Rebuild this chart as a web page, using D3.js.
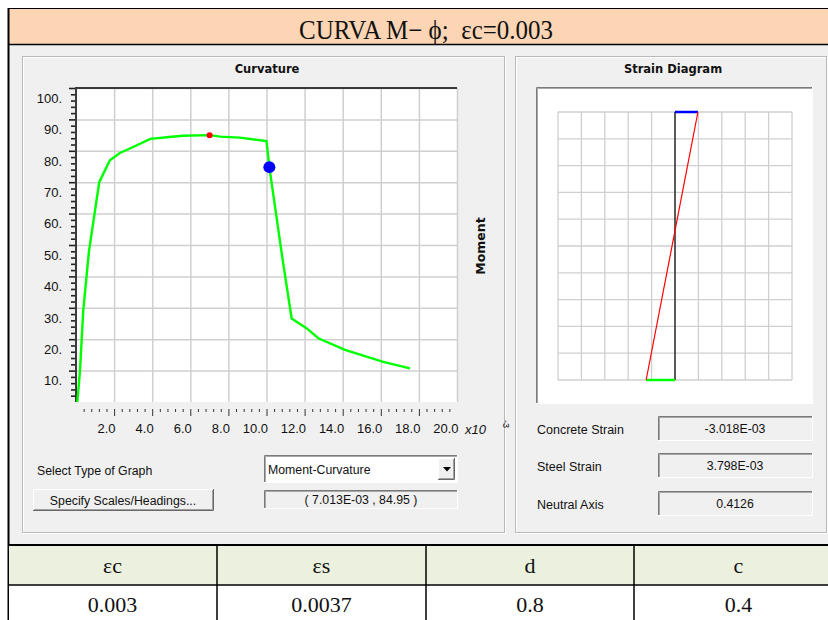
<!DOCTYPE html>
<meta charset="utf-8">
<script src="https://d3js.org/d3.v7.min.js"></script>
<style>
  body { margin: 0; background: #fff; }
  svg text { font-family: "Liberation Sans", Arial, sans-serif; fill: #111; }
  .serif { font-family: "Liberation Serif", "Times New Roman", serif !important; }
  .bold { font-family: "DejaVu Sans", sans-serif !important; font-weight: bold; }
</style>
<div id="chart"></div>
<script>
// moment-curvature curve, curvature in x10^-3
var curvature = [0.07, 0.21, 0.38, 0.68, 1.22, 1.78, 2.3, 3.0, 3.9, 4.9, 5.6, 7.03, 7.56, 8.6, 10.0, 10.15, 10.85, 11.32, 12.1, 12.72, 14.12, 16.13, 17.53];
var moment = [0, 10, 29, 48, 70, 77, 79.3, 81.2, 83.8, 84.4, 84.8, 85.0, 84.5, 84.2, 83.1, 74.8, 45.2, 26.6, 23.5, 20.3, 16.6, 12.8, 10.7];
var peakPoint = [7.013, 84.95];
var currentPoint = [10.15, 74.8];
var xTickLabels = ["2.0", "4.0", "6.0", "8.0", "10.0", "12.0", "14.0", "16.0", "18.0", "20.0"];
var yTickLabels = ["10.", "20.", "30.", "40.", "50.", "60.", "70.", "80.", "90.", "100."];

// strain diagram (x10^-3), top fibre and bottom fibre
var strainDepth = [0, 1];
var strainValues = [3.018, -3.798];

var infoLabels = ["Concrete Strain", "Steel Strain", "Neutral Axis"];
var infoValues = ["-3.018E-03", "3.798E-03", "0.4126"];

var tableHeaders = ["εc", "εs", "d", "c"];
var tableValues = ["0.003", "0.0037", "0.8", "0.4"];

var svg = d3.select("#chart").append("svg")
  .attr("width", 828)
  .attr("height", 620);

// ---- frame / title ----
svg.append("rect").attr("x", 8).attr("y", 44).attr("width", 820).attr("height", 501).attr("fill", "#f0f0f0");
svg.append("rect").attr("x", 8).attr("y", 8).attr("width", 820).attr("height", 36).attr("fill", "#fcd5b4");
svg.append("line").attr("x1", 8).attr("x2", 828).attr("y1", 8.5).attr("y2", 8.5).attr("stroke", "#000");
svg.append("line").attr("x1", 8).attr("x2", 828).attr("y1", 44.5).attr("y2", 44.5).attr("stroke", "#000").attr("stroke-width", 1.5);
svg.append("line").attr("x1", 8.5).attr("x2", 8.5).attr("y1", 8).attr("y2", 620).attr("stroke", "#000").attr("stroke-width", 2);

svg.append("text").attr("class", "serif")
  .attr("x", 299).attr("y", 39)
  .attr("textLength", 254).attr("lengthAdjust", "spacingAndGlyphs")
  .style("font-size", "27px")
  .style("white-space", "pre")
  .text("CURVA M− ϕ;  εc=0.003");

// etched group boxes
function groupBox(x, y, w, h) {
  svg.append("rect").attr("x", x + 1.5).attr("y", y + 1.5).attr("width", w).attr("height", h)
    .attr("fill", "none").attr("stroke", "#fff");
  svg.append("rect").attr("x", x + 0.5).attr("y", y + 0.5).attr("width", w).attr("height", h)
    .attr("fill", "none").attr("stroke", "#b9b9b9");
}
groupBox(22, 56, 482, 476);
groupBox(515, 56, 311, 476);

// sunken / raised boxes
function sunken(x, y, w, h, fill) {
  svg.append("rect").attr("x", x).attr("y", y).attr("width", w).attr("height", h).attr("fill", fill);
  svg.append("path").attr("d", "M" + (x + 0.5) + "," + (y + h) + "V" + (y + 0.5) + "H" + (x + w))
    .attr("fill", "none").attr("stroke", "#7a7a7a");
  svg.append("path").attr("d", "M" + (x + 1.5) + "," + (y + h - 1) + "V" + (y + 1.5) + "H" + (x + w - 1))
    .attr("fill", "none").attr("stroke", "#a8a8a8");
  svg.append("path").attr("d", "M" + x + "," + (y + h - 0.5) + "H" + (x + w - 0.5) + "V" + y)
    .attr("fill", "none").attr("stroke", "#fff");
}
function raised(x, y, w, h) {
  svg.append("rect").attr("x", x).attr("y", y).attr("width", w).attr("height", h).attr("fill", "#f0f0f0");
  svg.append("path").attr("d", "M" + (x + 0.5) + "," + (y + h) + "V" + (y + 0.5) + "H" + (x + w))
    .attr("fill", "none").attr("stroke", "#fff");
  svg.append("path").attr("d", "M" + x + "," + (y + h - 0.5) + "H" + (x + w - 0.5) + "V" + y)
    .attr("fill", "none").attr("stroke", "#696969");
  svg.append("path").attr("d", "M" + (x + 1) + "," + (y + h - 1.5) + "H" + (x + w - 1.5) + "V" + (y + 1))
    .attr("fill", "none").attr("stroke", "#a0a0a0");
}

// ---- curvature chart ----
var plot = { left: 76, top: 88, right: 457, bottom: 402 };
var x = d3.scaleLinear().domain([0, 20]).range([plot.left, plot.right]);
var y = d3.scaleLinear().domain([0, 100]).range([plot.bottom, plot.top]);

svg.append("text").attr("class", "bold")
  .attr("x", 267).attr("y", 73).attr("text-anchor", "middle")
  .style("font-size", "11.5px")
  .text("Curvature");

svg.append("rect").attr("x", plot.left).attr("y", plot.top)
  .attr("width", plot.right - plot.left).attr("height", plot.bottom - plot.top)
  .attr("fill", "#fff");

var xVals = xTickLabels.map(parseFloat);
var yVals = yTickLabels.map(parseFloat);

svg.append("g").selectAll("line").data(xVals).enter().append("line")
  .attr("x1", function(d) { return x(d) + 0.5; }).attr("x2", function(d) { return x(d) + 0.5; })
  .attr("y1", plot.top).attr("y2", plot.bottom)
  .attr("stroke", "#cfcfcf").attr("stroke-width", 1.5);
svg.append("g").selectAll("line").data(yVals).enter().append("line")
  .attr("x1", plot.left).attr("x2", plot.right)
  .attr("y1", function(d) { return y(d) + 0.5; }).attr("y2", function(d) { return y(d) + 0.5; })
  .attr("stroke", "#cfcfcf").attr("stroke-width", 1.5);

// dark sunken edge on left and top
svg.append("path")
  .attr("d", "M" + (plot.left) + "," + plot.bottom + "V" + (plot.top) + "H" + plot.right)
  .attr("fill", "none").attr("stroke", "#3a3a3a").attr("stroke-width", 2);

// y axis: minor + major ticks
var yMinor = d3.range(2, 100, 2).filter(function(d) { return d % 10 !== 0; });
svg.append("g").attr("class", "axis")
  .attr("transform", "translate(" + (plot.left - 1) + ",0)")
  .call(d3.axisLeft(y).tickValues(yMinor).tickSize(4).tickFormat(""))
  .call(function(g) { g.select(".domain").remove(); });
var yAxis = svg.append("g")
  .attr("transform", "translate(" + (plot.left - 1) + ",0)")
  .call(d3.axisLeft(y).tickValues(yVals).tickSize(6).tickPadding(7)
    .tickFormat(function(d, i) { return yTickLabels[i]; }));
yAxis.select(".domain").remove();
yAxis.selectAll("text").attr("dy", "1.1em").style("font-size", "13px")
  .style("font-family", "Liberation Sans, Arial, sans-serif").attr("fill", "#222");
svg.selectAll(".tick line").attr("stroke", "#222").attr("stroke-width", 1.6);

// x axis: minor + major ticks, detached below plot
var xMinor = d3.range(1, 50).map(function(d) { return d * 0.4; })
  .filter(function(d) { return Math.abs(d / 2 - Math.round(d / 2)) > 0.01; });
svg.append("g")
  .attr("transform", "translate(0,409)")
  .call(d3.axisBottom(x).tickValues(xMinor).tickSize(3).tickFormat(""))
  .call(function(g) { g.select(".domain").remove(); g.selectAll("line").attr("stroke", "#333"); });
var xAxis = svg.append("g")
  .attr("transform", "translate(0,409)")
  .call(d3.axisBottom(x).tickValues(xVals).tickSize(7)
    .tickFormat(function(d, i) { return xTickLabels[i]; }));
xAxis.select(".domain").remove();
xAxis.selectAll("line").attr("stroke", function(d) { return d === 20 ? "none" : "#333"; });
xAxis.selectAll("text").attr("text-anchor", "end").attr("x", 1).attr("y", 15)
  .style("font-size", "13px").style("font-family", "Liberation Sans, Arial, sans-serif").attr("fill", "#222");

svg.append("text").attr("x", 465).attr("y", 434)
  .style("font-size", "13px").style("font-style", "italic").attr("fill", "#222")
  .text("x10");
svg.append("text").attr("transform", "translate(503,420) rotate(90)")
  .style("font-size", "9px").attr("fill", "#222").text("-3");

svg.append("text").attr("class", "bold")
  .attr("transform", "translate(485,246) rotate(-90)")
  .attr("text-anchor", "middle")
  .style("font-size", "12.5px")
  .text("Moment");

var line = d3.line()
  .x(function(d, i) { return x(curvature[i]); })
  .y(function(d) { return y(d); });

svg.append("path").datum(moment)
  .attr("d", line)
  .attr("fill", "none")
  .attr("stroke", "#00ff00")
  .attr("stroke-width", 2.4);

svg.append("circle").attr("cx", x(peakPoint[0])).attr("cy", y(peakPoint[1])).attr("r", 3)
  .attr("fill", "#ff0000");
svg.append("circle").attr("cx", x(currentPoint[0])).attr("cy", y(currentPoint[1])).attr("r", 6)
  .attr("fill", "#0000ff");

// controls below the chart
svg.append("text").attr("x", 37).attr("y", 475).style("font-size", "12.3px").text("Select Type of Graph");
sunken(264, 455, 194, 28, "#fff");
svg.append("text").attr("x", 268).attr("y", 474).style("font-size", "12.3px").text("Moment-Curvature");
raised(438, 458, 17, 22);
svg.append("path").attr("d", "M443,467h8l-4,4.5z").attr("fill", "#000");

raised(33, 489, 181, 22);
svg.append("text").attr("x", 123).attr("y", 505).attr("text-anchor", "middle")
  .style("font-size", "12.3px").text("Specify Scales/Headings...");
sunken(264, 490, 194, 19, "#f0f0f0");
svg.append("text").attr("x", 361).attr("y", 504).attr("text-anchor", "middle")
  .style("font-size", "12.3px").text("( " + peakPoint[0].toFixed(3) + "E-03 , " + peakPoint[1].toFixed(2) + " )");

// ---- strain diagram ----
svg.append("text").attr("class", "bold")
  .attr("x", 673).attr("y", 73).attr("text-anchor", "middle")
  .style("font-size", "11.5px")
  .text("Strain Diagram");

sunken(536, 87, 277, 317, "#fff");

var gx = d3.scaleLinear().domain([0, 10]).range([558, 792]);
var gy = d3.scaleLinear().domain([0, 10]).range([112, 380]);
svg.append("g").selectAll("line").data(d3.range(11)).enter().append("line")
  .attr("x1", function(d) { return gx(d); }).attr("x2", function(d) { return gx(d); })
  .attr("y1", gy(0)).attr("y2", gy(10)).attr("stroke", "#cfcfcf").attr("stroke-width", 1.3);
svg.append("g").selectAll("line").data(d3.range(11)).enter().append("line")
  .attr("y1", function(d) { return gy(d); }).attr("y2", function(d) { return gy(d); })
  .attr("x1", gx(0)).attr("x2", gx(10)).attr("stroke", "#cfcfcf").attr("stroke-width", 1.3);

var sx = d3.scaleLinear().domain([-15.4, 15.4]).range([558, 792]);
var sy = d3.scaleLinear().domain([0, 1]).range([112, 380]);

svg.append("line").attr("x1", sx(0)).attr("x2", sx(0))
  .attr("y1", sy(0)).attr("y2", sy(1)).attr("stroke", "#000").attr("stroke-width", 1.2);
svg.append("line").attr("x1", sx(0)).attr("x2", sx(strainValues[0]))
  .attr("y1", sy(strainDepth[0])).attr("y2", sy(strainDepth[0]))
  .attr("stroke", "#0000ff").attr("stroke-width", 2.5);
svg.append("line").attr("x1", sx(0)).attr("x2", sx(strainValues[1]))
  .attr("y1", sy(strainDepth[1])).attr("y2", sy(strainDepth[1]))
  .attr("stroke", "#00ff00").attr("stroke-width", 2.5);
svg.append("path").datum(strainValues)
  .attr("d", d3.line().x(function(d) { return sx(d); }).y(function(d, i) { return sy(strainDepth[i]); }))
  .attr("fill", "none").attr("stroke", "#ff0000").attr("stroke-width", 1.2);

var infoY = [416, 453, 491];
infoLabels.forEach(function(lab, i) {
  svg.append("text").attr("x", 537).attr("y", infoY[i] + 18).style("font-size", "12.5px").text(lab);
  sunken(658, infoY[i], 155, 25, "#f0f0f0");
  svg.append("text").attr("x", 735).attr("y", infoY[i] + 17).attr("text-anchor", "middle")
    .style("font-size", "12.3px").text(infoValues[i]);
});

// ---- table ----
var colEdges = [8, 217, 426, 634, 843];
svg.append("rect").attr("x", 9).attr("y", 545).attr("width", 819).attr("height", 40).attr("fill", "#ebf1de");
svg.append("rect").attr("x", 9).attr("y", 585).attr("width", 819).attr("height", 35).attr("fill", "#fff");
svg.append("line").attr("x1", 8).attr("x2", 828).attr("y1", 545).attr("y2", 545).attr("stroke", "#000").attr("stroke-width", 2);
svg.append("line").attr("x1", 8).attr("x2", 828).attr("y1", 585).attr("y2", 585).attr("stroke", "#000").attr("stroke-width", 1.5);
svg.append("g").selectAll("line").data(colEdges.slice(1, 4)).enter().append("line")
  .attr("x1", function(d) { return d; }).attr("x2", function(d) { return d; })
  .attr("y1", 545).attr("y2", 620).attr("stroke", "#000").attr("stroke-width", 1.5);

tableHeaders.forEach(function(h, i) {
  var cx = (colEdges[i] + colEdges[i + 1]) / 2;
  svg.append("text").attr("class", "serif").attr("x", cx).attr("y", 573)
    .attr("text-anchor", "middle").style("font-size", "22px").text(h);
  svg.append("text").attr("class", "serif").attr("x", cx).attr("y", 612)
    .attr("text-anchor", "middle").style("font-size", "22px").text(tableValues[i]);
});
</script>
